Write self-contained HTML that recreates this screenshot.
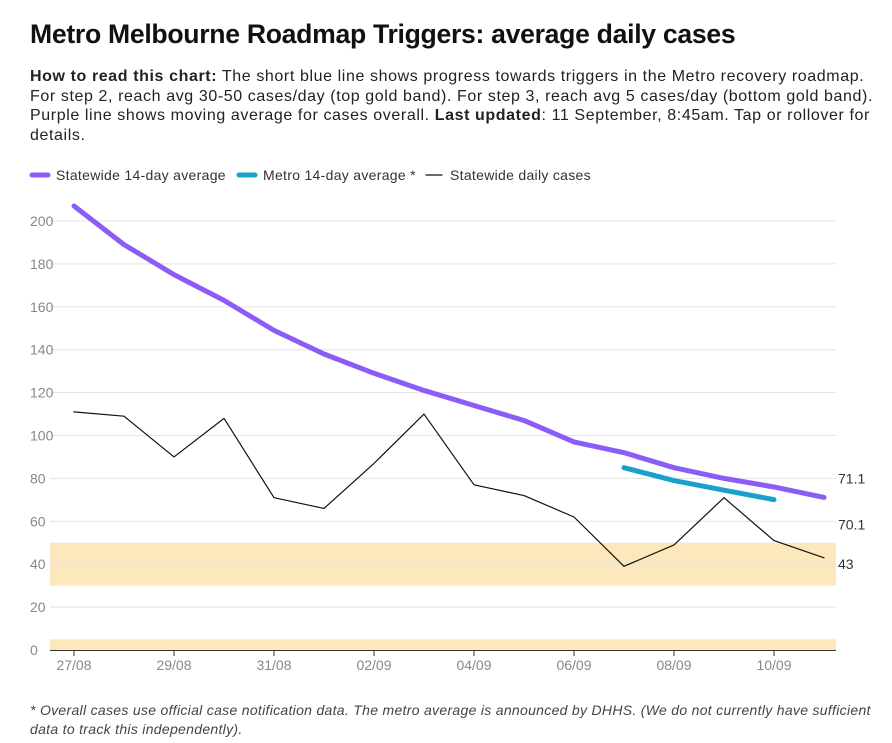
<!DOCTYPE html>
<html><head><meta charset="utf-8">
<style>
body{margin:0;width:892px;height:743px;background:#fff;font-family:"Liberation Sans",sans-serif;overflow:hidden}
h1{position:absolute;left:30px;top:19px;margin:0;font-size:26.6px;font-weight:bold;color:#111;letter-spacing:-0.3px}
.sub{position:absolute;left:30px;top:67px;width:870px;font-size:16px;line-height:19.5px;color:#222;white-space:nowrap;letter-spacing:0.6px}
.foot{position:absolute;left:30px;top:701px;width:870px;font-size:14px;line-height:19px;font-style:italic;color:#444;white-space:nowrap;letter-spacing:0.3px}
svg{position:absolute;left:0;top:0}
</style></head><body>
<h1>Metro Melbourne Roadmap Triggers: average daily cases</h1>
<div class="sub"><b>How to read this chart:</b> The short blue line shows progress towards triggers in the Metro recovery roadmap.<br>For step 2, reach avg 30-50 cases/day (top gold band). For step 3, reach avg 5 cases/day (bottom gold band).<br>Purple line shows moving average for cases overall. <b>Last updated</b>: 11 September, 8:45am. Tap or rollover for<br>details.</div>
<svg id="c" width="892" height="743"></svg>
<div class="foot">* Overall cases use official case notification data. The metro average is announced by DHHS. (We do not currently have sufficient<br>data to track this independently).</div>
<script>
const days=["27/08","28/08","29/08","30/08","31/08","01/09","02/09","03/09","04/09","05/09","06/09","07/09","08/09","09/09","10/09","11/09"];
const daily=[111,109,90,108,71,66,87,110,77,72,62,39,49,71,51,43];
const stateAvg=[207,189,175,163,149,138,129,121,114,107,97,92,85,80,76,71.1];
const metroAvg=[null,null,null,null,null,null,null,null,null,null,null,85,79,74.5,70.1,null];
const yTicks=[0,20,40,60,80,100,120,140,160,180,200];
const bands=[[30,50],[0,5]];
const xLabelIdx=[0,2,4,6,8,10,12,14];
const svg=document.getElementById('c');
const NS='http://www.w3.org/2000/svg';
const x=i=>74+i*50, y=v=>650-v*2.145;
function mk(t,a,name){const e=document.createElementNS(NS,t);for(const k in a)e.setAttribute(k,a[k]);


svg.appendChild(e);return e;}
bands.forEach((b,i)=>mk('rect',{x:50,y:y(b[1]),width:786,height:y(b[0])-y(b[1]),fill:'#fde7bd'},'gold-band-'+i));
yTicks.forEach(v=>{ if(v>0) mk('line',{x1:50,x2:836,y1:y(v),y2:y(v),stroke:'#e4e4e4','stroke-width':1},'gridline-'+v);
 const t=mk('text',{x:30,y:y(v)+5,'font-size':14,fill:'#888'},'y-tick-'+v);t.textContent=v;});
mk('line',{x1:50,x2:836,y1:650.5,y2:650.5,stroke:'#333','stroke-width':1},'x-axis');
xLabelIdx.forEach(i=>{mk('line',{x1:x(i),x2:x(i),y1:650,y2:656,stroke:'#333'},'x-tick-mark-'+i);
 const t=mk('text',{x:x(i),y:670,'font-size':14,fill:'#888','text-anchor':'middle'},'x-tick-'+days[i]);t.textContent=days[i];});
function line(arr,col,w,name){let d='';arr.forEach((v,i)=>{if(v==null)return;d+=(d?'L':'M')+x(i)+' '+y(v);});
 mk('path',{d:d,fill:'none',stroke:col,'stroke-width':w,'stroke-linecap':'round','stroke-linejoin':'round'},name);}
line(daily,'#111',1.2,'statewide-daily-line');
line(stateAvg,'#8b5cf6',5,'statewide-avg-line');
line(metroAvg,'#1ba0cc',5,'metro-avg-line');
function lastIdx(a){for(let i=a.length-1;i>=0;i--)if(a[i]!=null)return i;}
[[stateAvg,'label-statewide-avg',-19],[metroAvg,'label-metro-avg',25],[daily,'label-daily',6]].forEach(([a,n,dy])=>{
 const i=lastIdx(a);const t=mk('text',{x:838,y:y(a[i])+5+dy,'font-size':14,fill:'#333'},n);t.textContent=a[i];});
const leg=[['Statewide 14-day average','#8b5cf6',5,30],['Metro 14-day average *','#1ba0cc',5,237],['Statewide daily cases','#111',1.2,424]];
leg.forEach(([l,c,w,lx],i)=>{mk('line',{x1:lx+2,x2:lx+18,y1:175,y2:175,stroke:c,'stroke-width':w,'stroke-linecap':'round'},'legend-swatch-'+i);
 const t=mk('text',{x:lx+26,y:180,'font-size':14,fill:'#333','letter-spacing':0.3},'legend-entry-'+i);t.textContent=l;});
</script>
</body></html>
